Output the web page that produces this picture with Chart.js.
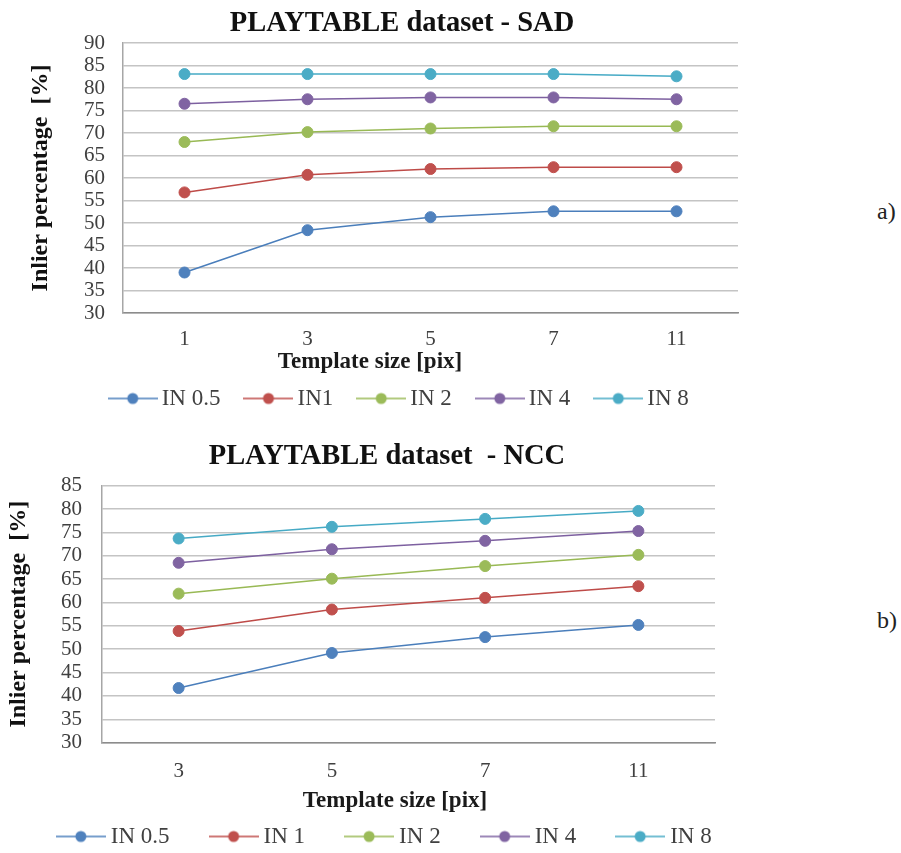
<!DOCTYPE html>
<html>
<head>
<meta charset="utf-8">
<script src="https://cdn.jsdelivr.net/npm/chart.js@4.4.1/dist/chart.umd.min.js"></script>
<style>
  html, body { margin: 0; padding: 0; background: #fff; overflow: hidden; }
  .wrap { position: relative; width: 901px; height: 853px; }
  canvas { position: absolute; left: 0; }
  #sadChart { top: 0; }
  #nccChart { top: 420px; }
  .tag { position: absolute; left: 877px; font: 24px "Liberation Serif", serif; color: #222; line-height: 24px; }
</style>
</head>
<body>
<div class="wrap">
  <canvas id="sadChart" width="804" height="420"></canvas>
  <canvas id="nccChart" width="774" height="438"></canvas>
  <span class="tag" style="top:199px">a)</span>
  <span class="tag" style="top:608px">b)</span>
</div>
<script>
// template sizes on the x axis
const sadSizes = ["1", "3", "5", "7", "11"];
const nccSizes = ["3", "5", "7", "11"];

// inlier percentage per threshold, SAD matching
const sadIn05 = [39.0, 48.4, 51.3, 52.6, 52.6];
const sadIn1 = [56.8, 60.7, 62.0, 62.4, 62.4];
const sadIn2 = [68.0, 70.2, 71.0, 71.5, 71.5];
const sadIn4 = [76.5, 77.5, 77.9, 77.9, 77.5];
const sadIn8 = [83.1, 83.1, 83.1, 83.1, 82.6];

// inlier percentage per threshold, NCC matching
const nccIn05 = [41.7, 49.2, 52.6, 55.2];
const nccIn1 = [53.9, 58.5, 61.0, 63.5];
const nccIn2 = [61.9, 65.1, 67.8, 70.2];
const nccIn4 = [68.5, 71.4, 73.2, 75.3];
const nccIn8 = [73.7, 76.2, 77.9, 79.6];

const sadNames = ["IN 0.5", "IN1", "IN 2", "IN 4", "IN 8"];
const nccNames = ["IN 0.5", "IN 1", "IN 2", "IN 4", "IN 8"];

const sadTicks = { min: 30, max: 90, step: 5 };
const nccTicks = { min: 30, max: 85, step: 5 };

const lineColors = ["#4a7ebb", "#be4b48", "#98b954", "#7d60a0", "#46aac5"];
const markColors = ["#4f81bd", "#c0504d", "#9bbb59", "#8064a2", "#4bacc6"];

Chart.defaults.font.family = '"Liberation Serif", serif';
Chart.defaults.color = "#404040";

// small line-with-dot icon used in the legend
function legendIcon(line, fill) {
  const c = document.createElement("canvas");
  c.width = 50;
  c.height = 14;
  const g = c.getContext("2d");
  g.strokeStyle = line;
  g.lineWidth = 1.5;
  g.beginPath();
  g.moveTo(0, 7);
  g.lineTo(50, 7);
  g.stroke();
  g.fillStyle = fill;
  g.beginPath();
  g.arc(25, 7, 5.5, 0, Math.PI * 2);
  g.fill();
  return c;
}
const icons = lineColors.map((c, i) => legendIcon(c, markColors[i]));

// x axis caption, placed freely under the tick labels
const axisCaption = {
  id: "axisCaption",
  afterDraw(chart, args, opts) {
    const ctx = chart.ctx;
    ctx.save();
    ctx.font = 'bold 23px "Liberation Serif", serif';
    ctx.fillStyle = "#1a1a1a";
    ctx.textAlign = "center";
    ctx.textBaseline = "middle";
    ctx.fillText(opts.text, opts.x, opts.y);
    ctx.restore();
  },
};

function makeDatasets(names, series) {
  return series.map((values, i) => ({
    label: names[i],
    data: values,
    borderColor: lineColors[i],
    backgroundColor: markColors[i],
    borderWidth: 1.5,
    pointRadius: 5.5,
    pointBorderWidth: 1,
    pointBorderColor: markColors[i],
    pointBackgroundColor: markColors[i],
    tension: 0,
  }));
}

function buildChart(id, cfg) {
  return new Chart(document.getElementById(id), {
    type: "line",
    data: { labels: cfg.labels, datasets: makeDatasets(cfg.names, cfg.series) },
    plugins: [axisCaption],
    options: {
      responsive: false,
      animation: false,
      layout: { padding: 0 },
      plugins: {
        tooltip: { enabled: false },
        title: {
          display: true,
          text: cfg.title,
          color: "#111",
          font: { size: 28.5, weight: "bold" },
          padding: cfg.titlePadding,
        },
        legend: {
          position: "bottom",
          labels: {
            usePointStyle: true,
            pointStyleWidth: cfg.legendBox,
            padding: cfg.legendGap,
            color: "#404040",
            font: { size: 23 },
            generateLabels: (chart) =>
              Chart.defaults.plugins.legend.labels
                .generateLabels(chart)
                .map((item, i) => ({ ...item, pointStyle: icons[i] })),
          },
        },
        axisCaption: cfg.caption,
      },
      scales: {
        x: {
          type: "category",
          offset: true,
          grid: { display: false },
          border: { display: true, color: "#8c8c8c", width: 1.5 },
          ticks: { padding: cfg.xTickPad, font: { size: 21 }, color: "#404040" },
          afterFit: (s) => { s.height = cfg.xHeight; },
        },
        y: {
          min: cfg.ticks.min,
          max: cfg.ticks.max,
          grid: { color: "#c4c4c4", lineWidth: 1.5, drawTicks: false },
          border: { display: true, color: "#a6a6a6", width: 1.5 },
          ticks: {
            stepSize: cfg.ticks.step,
            autoSkip: false,
            padding: cfg.yTickPad,
            font: { size: 21 },
            color: "#404040",
          },
          title: {
            display: true,
            text: "Inlier percentage  [%]",
            color: "#111",
            font: { size: 24, weight: "bold" },
            padding: { top: cfg.yTitlePad, bottom: 0 },
          },
          afterFit: (s) => { s.width = cfg.yWidth; },
        },
        spare: {
          type: "linear",
          position: "right",
          display: true,
          grid: { display: false },
          border: { display: false },
          ticks: { display: false },
          afterFit: (s) => { s.width = cfg.rightGap; },
        },
      },
    },
  });
}

buildChart("sadChart", {
  labels: sadSizes,
  names: sadNames,
  series: [sadIn05, sadIn1, sadIn2, sadIn4, sadIn8],
  ticks: sadTicks,
  title: "PLAYTABLE dataset - SAD",
  titlePadding: { top: 6.9, bottom: 1.9 },
  legendBox: 35,
  legendGap: 30.5,
  xHeight: 43.5,
  xTickPad: 6,
  yTickPad: 18,
  yTitlePad: 26.6,
  yWidth: 123,
  rightGap: 66,
  caption: { text: "Template size [pix]", x: 370, y: 362 },
});

buildChart("nccChart", {
  labels: nccSizes,
  names: nccNames,
  series: [nccIn05, nccIn1, nccIn2, nccIn4, nccIn8],
  ticks: nccTicks,
  title: "PLAYTABLE dataset  - NCC",
  titlePadding: { top: 19.4, bottom: 12.1 },
  legendBox: 37,
  legendGap: 45.5,
  xHeight: 36.8,
  xTickPad: 8,
  yTickPad: 20,
  yTitlePad: 4.6,
  yWidth: 102,
  rightGap: 59,
  caption: { text: "Template size [pix]", x: 395, y: 381 },
});
</script>
</body>
</html>
